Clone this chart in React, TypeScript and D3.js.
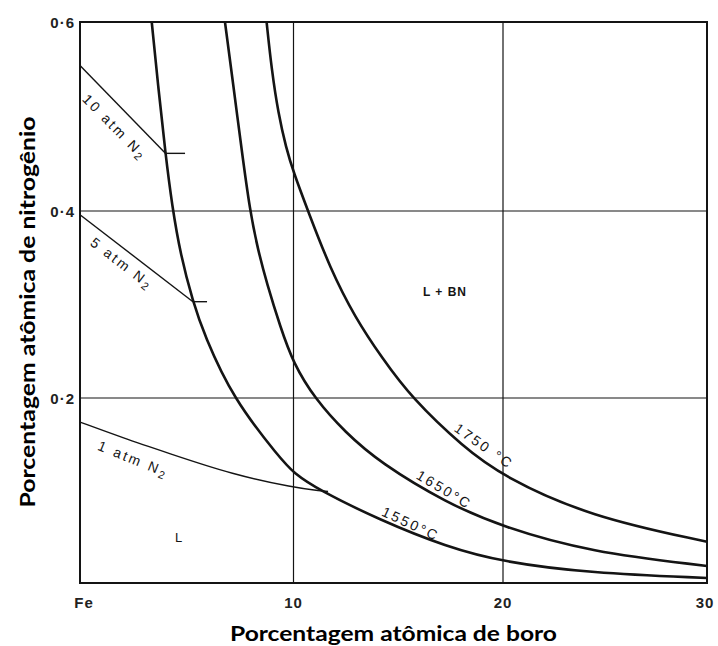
import React from "react";
import * as d3 from "d3";

type Pt = [number, number];

// Fe–B–N liquidus: nitrogen (at.%) in equilibrium with BN against boron (at.%)
const isotherm1550: Pt[] = [
  [3.36, 0.6], [3.68, 0.528], [4.0, 0.461], [4.31, 0.406], [4.71, 0.353], [5.29, 0.303],
  [5.81, 0.268], [7.17, 0.199], [9.37, 0.135], [10.0, 0.119], [11.17, 0.101], [14.13, 0.068],
  [17.31, 0.039], [20.0, 0.0227], [24.26, 0.0108], [30, 0.0054],
];
const isotherm1650: Pt[] = [
  [6.79, 0.6], [7.17, 0.535], [7.57, 0.465], [7.96, 0.4], [8.34, 0.358], [8.76, 0.322],
  [9.37, 0.277], [9.99, 0.237], [11.03, 0.199], [12.46, 0.163], [14.13, 0.13], [17.31, 0.0865],
  [20.0, 0.0605], [24.26, 0.0335], [30, 0.0184],
];
const isotherm1750: Pt[] = [
  [8.74, 0.6], [8.98, 0.549], [9.29, 0.503], [9.65, 0.467], [10.0, 0.441], [10.71, 0.399],
  [11.74, 0.339], [12.94, 0.286], [14.22, 0.243], [15.64, 0.2], [18.1, 0.147], [20.01, 0.115],
  [24.26, 0.0717], [30, 0.0446],
];
const isothermLabels = ["1550°C", "1650°C", "1750 °C"];

// Nitrogen solubility lines at fixed N2 pressure
const isobar1atm: Pt[] = [[0, 0.174], [2, 0.157], [4.06, 0.141], [7.18, 0.117], [10.07, 0.103], [11.17, 0.1]];
const isobar5atm: Pt[] = [[0, 0.396], [5.29, 0.303]];
const isobar10atm: Pt[] = [[0, 0.554], [4.0, 0.461]];
const isobarTickEnds = [11.65, 5.95, 4.92];

const xTickValues = [0, 10, 20, 30];
const xTickLabels = ["Fe", "10", "20", "30"];
const yTickValues = [0.2, 0.4, 0.6];
const yTickLabels = ["0·2", "0·4", "0·6"];
const gridX = [10, 20];
const gridY = [0.2, 0.4];

const W = 718;
const H = 646;
const INK = "#141414";

const x = d3.scaleLinear().domain([0, 10, 20, 30]).range([80, 293.5, 503, 707]);
const y = d3.scaleLinear().domain([0, 0.2, 0.4, 0.6]).range([583, 398, 211, 22]);

const smooth = d3
  .line<Pt>()
  .x((d) => x(d[0]))
  .y((d) => y(d[1]))
  .curve(d3.curveBasis);
const straight = d3
  .line<Pt>()
  .x((d) => x(d[0]))
  .y((d) => y(d[1]));

const LETTER_FONT = "'Liberation Sans', Arial, sans-serif";
const TITLE_FONT = "Lato, 'Open Sans', sans-serif";

function Lettering({ at, angle, children, size = 14 }: { at: Pt; angle: number; children: React.ReactNode; size?: number }) {
  return (
    <text
      transform={`translate(${x(at[0])},${y(at[1])}) rotate(${angle})`}
      textAnchor="middle"
      dominantBaseline="central"
      fontFamily={LETTER_FONT}
      fontSize={size}
      letterSpacing={2.5}
      fill={INK}
    >
      {children}
    </text>
  );
}

export default function App() {
  const isobars = [isobar1atm, isobar5atm, isobar10atm];
  return (
    <svg
      width={W}
      height={H}
      viewBox={`0 0 ${W} ${H}`}
      style={{ position: "absolute", left: 0, top: 0, background: "#fff", display: "block" }}
    >
      <rect x={0} y={0} width={W} height={H} fill="#fff" />

      {/* grid */}
      {gridX.map((v) => (
        <line key={`gx${v}`} x1={x(v)} x2={x(v)} y1={y(0.6)} y2={y(0)} stroke={INK} strokeWidth={1.2} />
      ))}
      {gridY.map((v) => (
        <line key={`gy${v}`} x1={x(0)} x2={x(30)} y1={y(v)} y2={y(v)} stroke={INK} strokeWidth={1.2} />
      ))}

      {/* isotherms */}
      {[isotherm1550, isotherm1650, isotherm1750].map((pts, i) => (
        <path key={`iso${i}`} d={smooth(pts) ?? ""} fill="none" stroke={INK} strokeWidth={2.6} />
      ))}

      {/* isobars with end ticks */}
      {isobars.map((pts, i) => {
        const last = pts[pts.length - 1];
        return (
          <g key={`bar${i}`}>
            <path
              d={(pts.length > 2 ? smooth(pts) : straight(pts)) ?? ""}
              fill="none"
              stroke={INK}
              strokeWidth={1.4}
            />
            <line
              x1={x(last[0])}
              x2={x(isobarTickEnds[i])}
              y1={y(last[1])}
              y2={y(last[1]) + (i === 0 ? 1 : 0)}
              stroke={INK}
              strokeWidth={1.4}
            />
          </g>
        );
      })}

      {/* frame */}
      <rect
        x={x(0)}
        y={y(0.6)}
        width={x(30) - x(0)}
        height={y(0) - y(0.6)}
        fill="none"
        stroke={INK}
        strokeWidth={2}
      />

      {/* tick labels */}
      {yTickValues.map((v, i) => (
        <text
          key={`yt${v}`}
          x={75}
          y={y(v)}
          textAnchor="end"
          dominantBaseline="central"
          fontFamily={LETTER_FONT}
          fontWeight="bold"
          fontSize={15}
          letterSpacing={1}
          fill="#222"
        >
          {yTickLabels[i]}
        </text>
      ))}
      {xTickValues.map((v, i) => (
        <text
          key={`xt${v}`}
          x={x(v) + (i === 0 ? 4 : i === 3 ? -2 : 0)}
          y={602}
          textAnchor="middle"
          dominantBaseline="central"
          fontFamily={LETTER_FONT}
          fontWeight="bold"
          fontSize={15}
          letterSpacing={1}
          fill="#222"
        >
          {xTickLabels[i]}
        </text>
      ))}

      {/* curve labels */}
      <Lettering at={[1.64, 0.489]} angle={45.5}>
        <tspan>10 atm N</tspan>
        <tspan dy={4} fontSize={11}>2</tspan>
      </Lettering>
      <Lettering at={[1.97, 0.344]} angle={37.5}>
        <tspan>5 atm N</tspan>
        <tspan dy={4} fontSize={11}>2</tspan>
      </Lettering>
      <Lettering at={[2.5, 0.134]} angle={22}>
        <tspan>1 atm N</tspan>
        <tspan dy={4} fontSize={11}>2</tspan>
      </Lettering>
      <Lettering at={[19.1, 0.148]} angle={35}>{isothermLabels[2]}</Lettering>
      <Lettering at={[17.2, 0.101]} angle={31}>{isothermLabels[1]}</Lettering>
      <Lettering at={[15.6, 0.064]} angle={25}>{isothermLabels[0]}</Lettering>

      {/* phase fields */}
      <Lettering at={[4.68, 0.049]} angle={0} size={13}>L</Lettering>
      <text
        x={x(17.23)}
        y={y(0.313)}
        textAnchor="middle"
        dominantBaseline="central"
        fontFamily={LETTER_FONT}
        fontWeight="bold"
        fontSize={12}
        letterSpacing={1}
        fill={INK}
      >
        L + BN
      </text>

      {/* axis titles */}
      <text
        x={393.5}
        y={641}
        textAnchor="middle"
        fontFamily={TITLE_FONT}
        fontWeight="bold"
        fontSize={21}
        textLength={327}
        lengthAdjust="spacingAndGlyphs"
        fill="#000"
      >
        Porcentagem atômica de boro
      </text>
      <text
        transform="translate(35,312) rotate(-90)"
        textAnchor="middle"
        fontFamily={TITLE_FONT}
        fontWeight="bold"
        fontSize={21}
        textLength={391}
        lengthAdjust="spacingAndGlyphs"
        fill="#000"
      >
        Porcentagem atômica de nitrogênio
      </text>
    </svg>
  );
}
